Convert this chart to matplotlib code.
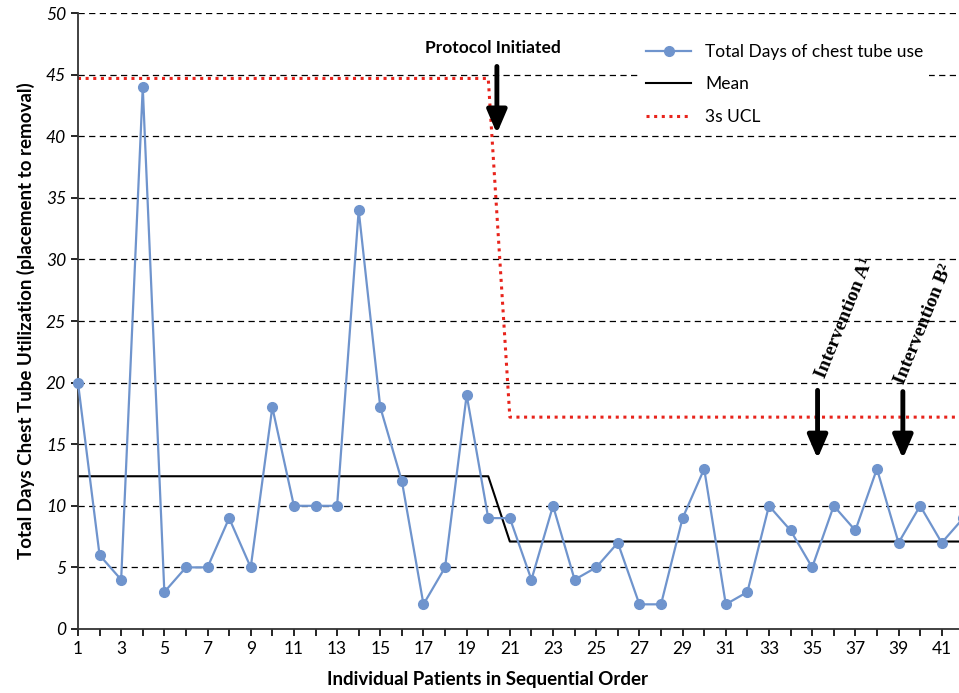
import matplotlib
matplotlib.use("Agg")
import matplotlib.pyplot as plt

plt.rcParams['font.family'] = ['Lato', 'DejaVu Sans']

# Données
patients = list(range(1, 43))
jours = [20, 6, 4, 44, 3, 5, 5, 9, 5, 18,
         10, 10, 10, 34, 18, 12, 2, 5, 19, 9,
         9, 4, 10, 4, 5, 7, 2, 2, 9, 13,
         2, 3, 10, 8, 5, 10, 8, 13, 7, 10,
         7, 9]
mean_x = [1, 20, 21, 42]
mean_y = [12.4, 12.4, 7.1, 7.1]
ucl_x = [1, 20, 21, 42]
ucl_y = [44.7, 44.7, 17.2, 17.2]

fig = plt.figure(figsize=(9.59, 6.93), dpi=100)
ax = fig.add_axes([0.0813, 0.0924, 0.9187, 0.8886])

for v in range(5, 55, 5):
    ax.axhline(v, color="black", linestyle=(0, (5, 3.5)), linewidth=0.9, zorder=0)

ax.plot(patients, jours, color="#6f94cd", marker="o", markersize=7, linewidth=1.6,
        label="Total Days of chest tube use", zorder=3, clip_on=False)
ax.plot(mean_x, mean_y, color="black", linewidth=1.5, label="Mean", zorder=2)
ax.plot(ucl_x, ucl_y, color="#e8241c", linestyle=(0, (1, 1.5)), linewidth=2.2,
        label="3s UCL", zorder=2)

ax.set_xlim(1, 41.8)
ax.set_ylim(0, 50)
ax.set_xticks(range(1, 42, 2))
ax.set_xticks(range(1, 42), minor=True)
ax.set_yticks(range(0, 55, 5))
ax.tick_params(axis="x", labelsize=12.5, direction="out", length=5, width=1.2, which="both")
ax.tick_params(axis="y", labelsize=12.5, direction="out", length=5, width=1.2)
for lab in ax.get_yticklabels():
    lab.set_style("italic")
for s in ["top", "right"]:
    ax.spines[s].set_visible(False)
ax.spines["left"].set_linewidth(1.3)
ax.spines["bottom"].set_linewidth(1.3)
ax.spines["left"].set_color("#333333")
ax.spines["bottom"].set_color("#333333")

ax.set_xlabel("Individual Patients in Sequential Order", fontsize=13.5, fontweight="bold",
              labelpad=10, x=0.465)
ax.set_ylabel("Total Days Chest Tube Utilization (placement to removal)", fontsize=13.5,
              fontweight="bold", labelpad=8)

leg = ax.legend(loc="upper left", bbox_to_anchor=(0.628, 0.974), frameon=True, fontsize=12.5,
                handlelength=2.6, labelspacing=0.95, borderpad=0.35)
leg.get_frame().set_facecolor("white")
leg.get_frame().set_edgecolor("none")
leg.get_frame().set_alpha(1)

# Flèches et annotations
ax.text(20.2, 47.2, "Protocol Initiated", fontsize=12.5, fontweight="bold", ha="center", va="center")
ax.annotate("", xy=(20.4, 40.0), xytext=(20.4, 45.9),
            arrowprops=dict(arrowstyle="-|>,head_width=0.6,head_length=1.4", color="black", lw=3.5))

serif = dict(family="Liberation Serif", fontweight="bold", fontsize=14, rotation=68,
             rotation_mode="anchor", ha="left", va="baseline")
ax.text(35.6, 20.3, "Intervention A\u00b9", **serif)
ax.text(39.25, 19.8, "Intervention B\u00b2", **serif)
ax.annotate("", xy=(35.25, 13.6), xytext=(35.25, 19.6),
            arrowprops=dict(arrowstyle="-|>,head_width=0.6,head_length=1.4", color="black", lw=3.5))
ax.annotate("", xy=(39.2, 13.6), xytext=(39.2, 19.5),
            arrowprops=dict(arrowstyle="-|>,head_width=0.6,head_length=1.4", color="black", lw=3.5))

fig.savefig("out.png", dpi=100)
